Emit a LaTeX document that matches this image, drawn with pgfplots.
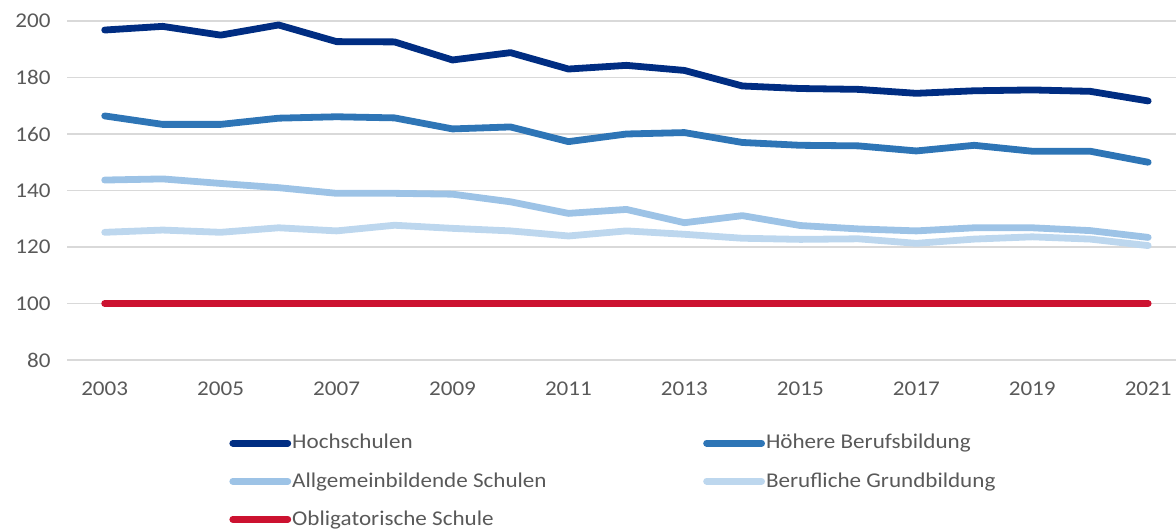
\documentclass[border=0pt]{standalone}
\usepackage{pgfplots}
\pgfplotsset{compat=1.18}
\usepackage{fontspec}
\setmainfont{Carlito}[FakeStretch=1.1]
\definecolor{cHoch}{HTML}{002D82}
\definecolor{cHoeh}{HTML}{2E75B6}
\definecolor{cAllg}{HTML}{9DC3E6}
\definecolor{cBer}{HTML}{BDD7EE}
\definecolor{cObl}{HTML}{CC1230}
\definecolor{cGrid}{HTML}{D9D9D9}
\definecolor{cText}{HTML}{595959}
\begin{document}
\begin{tikzpicture}
\begin{axis}[
  scale only axis,
  width=554.5bp, height=169.5bp,
  xmin=2002.35, xmax=2021.48,
  ymin=80, ymax=200,
  xtick={2003,2005,...,2021},
  ytick={80,100,...,200},
  xticklabel style={/pgf/number format/1000 sep={}},
  /pgf/number format/assume math mode=true,
  axis line style={draw=none},
  major tick length=0pt,
  ymajorgrids,
  grid style={draw=cGrid, line width=0.9bp},
  every tick label/.append style={font=\fontsize{10.5bp}{12bp}\selectfont, text=cText},
  yticklabel style={inner sep=0pt, xshift=-8bp},
  xticklabel style={inner sep=0pt, yshift=-10.5bp},
  legend columns=2,
  legend cell align=left,
  legend style={at={(axis description cs:0,0)}, anchor=north west,
    xshift=81bp, yshift=-37bp, draw=none, fill=none, inner sep=0pt,
    column sep=0.5bp, row sep=10.25bp,
    font=\fontsize{10.5bp}{12bp}\selectfont, text=cText,
    nodes={inner sep=0pt}},
  legend image code/.code={\draw[#1, line cap=round] (0bp,0bp) -- (27.5bp,0bp);},
  every axis plot/.append style={line width=3.4bp, line cap=round, line join=round, mark=none},
]
\addplot[cHoch] coordinates {
(2003,196.8) (2004,198.1) (2005,195.0) (2006,198.6) (2007,192.7) (2008,192.6)
(2009,186.2) (2010,188.8) (2011,183.0) (2012,184.3) (2013,182.5) (2014,177.0)
(2015,176.1) (2016,175.8) (2017,174.4) (2018,175.3) (2019,175.6) (2020,175.1)
(2021,171.7)};
\addlegendentry{\makebox[205bp][l]{Hochschulen}}
\addplot[cHoeh] coordinates {
(2003,166.4) (2004,163.4) (2005,163.4) (2006,165.6) (2007,166.1) (2008,165.7)
(2009,161.8) (2010,162.5) (2011,157.3) (2012,160.0) (2013,160.5) (2014,157.0)
(2015,156.0) (2016,155.8) (2017,154.0) (2018,156.0) (2019,153.9) (2020,153.9)
(2021,150.0)};
\addlegendentry{Höhere Berufsbildung}
\addplot[cAllg] coordinates {
(2003,143.7) (2004,144.1) (2005,142.5) (2006,141.0) (2007,139.0) (2008,139.0)
(2009,138.7) (2010,136.0) (2011,131.9) (2012,133.3) (2013,128.6) (2014,131.1)
(2015,127.6) (2016,126.4) (2017,125.7) (2018,126.8) (2019,126.8) (2020,125.8)
(2021,123.4)};
\addlegendentry{\makebox[205bp][l]{Allgemeinbildende Schulen}}
\addplot[cBer] coordinates {
(2003,125.2) (2004,126.0) (2005,125.2) (2006,126.8) (2007,125.7) (2008,127.7)
(2009,126.6) (2010,125.7) (2011,123.9) (2012,125.7) (2013,124.5) (2014,123.1)
(2015,122.7) (2016,122.9) (2017,121.3) (2018,122.8) (2019,123.6) (2020,122.8)
(2021,120.5)};
\addlegendentry{Berufliche Grundbildung}
\addplot[cObl] coordinates {
(2003,100) (2004,100) (2005,100) (2006,100) (2007,100) (2008,100)
(2009,100) (2010,100) (2011,100) (2012,100) (2013,100) (2014,100)
(2015,100) (2016,100) (2017,100) (2018,100) (2019,100) (2020,100)
(2021,100)};
\addlegendentry{\makebox[205bp][l]{Obligatorische Schule}}
\end{axis}
\pgfresetboundingbox
\path ([shift={(-33.5bp,-85.5bp)}]current axis.south west) rectangle ([shift={(0bp,10.5bp)}]current axis.north east);
\end{tikzpicture}
\end{document}
